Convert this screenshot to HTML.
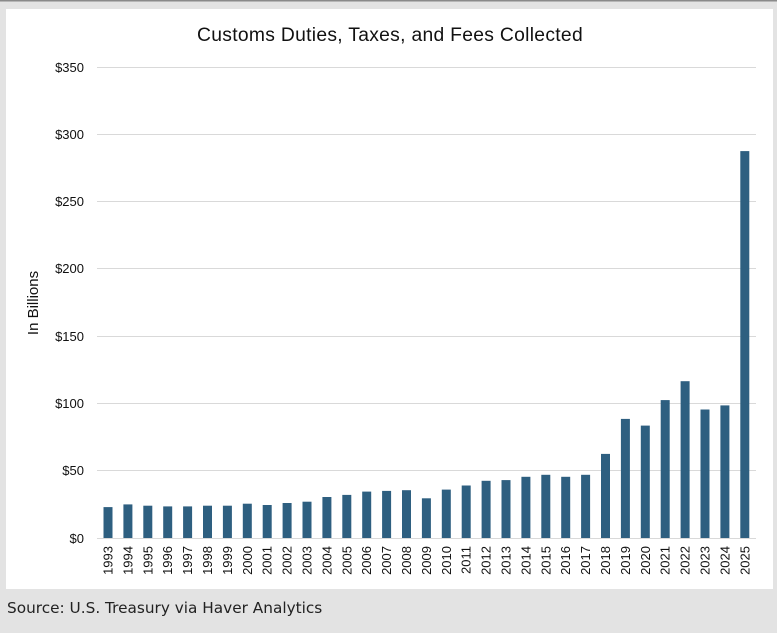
<!DOCTYPE html>
<html><head><meta charset="utf-8"><style>
html,body{margin:0;padding:0;background:#e3e3e3;}
body{width:777px;height:633px;position:relative;overflow:hidden;font-family:"Liberation Sans",Arial,sans-serif;}
</style></head><body>
<svg width="777" height="633" xmlns="http://www.w3.org/2000/svg" style="position:absolute;left:0;top:0">
<rect x="0" y="0" width="777" height="633" fill="#e3e3e3"/>
<rect x="0" y="0" width="777" height="1.5" fill="#8a8a8a"/>
<rect x="6" y="9" width="767" height="580" fill="#fff"/>
<text x="390" y="41" text-anchor="middle" font-size="19.3" letter-spacing="0.3" fill="#111">Customs Duties, Taxes, and Fees Collected</text>
<g stroke="#d9d9d9" stroke-width="1">
<line x1="97" x2="756" y1="67.5" y2="67.5"/>
<line x1="97" x2="756" y1="134.5" y2="134.5"/>
<line x1="97" x2="756" y1="201.5" y2="201.5"/>
<line x1="97" x2="756" y1="268.5" y2="268.5"/>
<line x1="97" x2="756" y1="336.5" y2="336.5"/>
<line x1="97" x2="756" y1="403.5" y2="403.5"/>
<line x1="97" x2="756" y1="470.5" y2="470.5"/>
<line x1="97" x2="756" y1="538.5" y2="538.5"/>
</g>
<g font-size="13" fill="#111" text-anchor="end">
<text x="84" y="72">$350</text>
<text x="84" y="139">$300</text>
<text x="84" y="206">$250</text>
<text x="84" y="273">$200</text>
<text x="84" y="341">$150</text>
<text x="84" y="408">$100</text>
<text x="84" y="475">$50</text>
<text x="84" y="543">$0</text>
</g>
<text transform="translate(38,303) rotate(-90)" text-anchor="middle" font-size="15" fill="#111">In Billions</text>
<g fill="#2e5f80">
<rect x="103.5" y="507.1" width="9" height="30.9"/>
<rect x="123.4" y="504.4" width="9" height="33.6"/>
<rect x="143.3" y="505.7" width="9" height="32.3"/>
<rect x="163.2" y="506.4" width="9" height="31.6"/>
<rect x="183.1" y="506.4" width="9" height="31.6"/>
<rect x="203.0" y="505.7" width="9" height="32.3"/>
<rect x="222.9" y="505.7" width="9" height="32.3"/>
<rect x="242.8" y="503.7" width="9" height="34.3"/>
<rect x="262.7" y="505.0" width="9" height="33.0"/>
<rect x="282.6" y="503.0" width="9" height="35.0"/>
<rect x="302.5" y="501.7" width="9" height="36.3"/>
<rect x="322.4" y="497.0" width="9" height="41.0"/>
<rect x="342.3" y="494.9" width="9" height="43.1"/>
<rect x="362.2" y="491.6" width="9" height="46.4"/>
<rect x="382.1" y="490.9" width="9" height="47.1"/>
<rect x="402.0" y="490.2" width="9" height="47.8"/>
<rect x="421.9" y="498.3" width="9" height="39.7"/>
<rect x="441.8" y="489.6" width="9" height="48.4"/>
<rect x="461.7" y="485.5" width="9" height="52.5"/>
<rect x="481.6" y="480.8" width="9" height="57.2"/>
<rect x="501.5" y="480.1" width="9" height="57.9"/>
<rect x="521.4" y="476.8" width="9" height="61.2"/>
<rect x="541.3" y="474.8" width="9" height="63.2"/>
<rect x="561.2" y="476.8" width="9" height="61.2"/>
<rect x="581.1" y="474.8" width="9" height="63.2"/>
<rect x="601.0" y="453.9" width="9" height="84.1"/>
<rect x="620.9" y="418.9" width="9" height="119.1"/>
<rect x="640.8" y="425.6" width="9" height="112.4"/>
<rect x="660.7" y="400.1" width="9" height="137.9"/>
<rect x="680.6" y="381.2" width="9" height="156.8"/>
<rect x="700.5" y="409.5" width="9" height="128.5"/>
<rect x="720.4" y="405.4" width="9" height="132.6"/>
<rect x="740.3" y="151.1" width="9" height="386.9"/>
</g>
<g font-size="13" fill="#111" text-anchor="end">
<text transform="translate(112.5,546) rotate(-90)">1993</text>
<text transform="translate(132.4,546) rotate(-90)">1994</text>
<text transform="translate(152.3,546) rotate(-90)">1995</text>
<text transform="translate(172.2,546) rotate(-90)">1996</text>
<text transform="translate(192.1,546) rotate(-90)">1997</text>
<text transform="translate(212.0,546) rotate(-90)">1998</text>
<text transform="translate(231.9,546) rotate(-90)">1999</text>
<text transform="translate(251.8,546) rotate(-90)">2000</text>
<text transform="translate(271.7,546) rotate(-90)">2001</text>
<text transform="translate(291.6,546) rotate(-90)">2002</text>
<text transform="translate(311.5,546) rotate(-90)">2003</text>
<text transform="translate(331.4,546) rotate(-90)">2004</text>
<text transform="translate(351.3,546) rotate(-90)">2005</text>
<text transform="translate(371.2,546) rotate(-90)">2006</text>
<text transform="translate(391.1,546) rotate(-90)">2007</text>
<text transform="translate(411.0,546) rotate(-90)">2008</text>
<text transform="translate(430.9,546) rotate(-90)">2009</text>
<text transform="translate(450.8,546) rotate(-90)">2010</text>
<text transform="translate(470.7,546) rotate(-90)">2011</text>
<text transform="translate(490.6,546) rotate(-90)">2012</text>
<text transform="translate(510.5,546) rotate(-90)">2013</text>
<text transform="translate(530.4,546) rotate(-90)">2014</text>
<text transform="translate(550.3,546) rotate(-90)">2015</text>
<text transform="translate(570.2,546) rotate(-90)">2016</text>
<text transform="translate(590.1,546) rotate(-90)">2017</text>
<text transform="translate(610.0,546) rotate(-90)">2018</text>
<text transform="translate(629.9,546) rotate(-90)">2019</text>
<text transform="translate(649.8,546) rotate(-90)">2020</text>
<text transform="translate(669.7,546) rotate(-90)">2021</text>
<text transform="translate(689.6,546) rotate(-90)">2022</text>
<text transform="translate(709.5,546) rotate(-90)">2023</text>
<text transform="translate(729.4,546) rotate(-90)">2024</text>
<text transform="translate(749.3,546) rotate(-90)">2025</text>
</g>
<text x="7" y="613" font-size="15.3" fill="#222" font-family="'DejaVu Sans','Liberation Sans',sans-serif">Source: U.S. Treasury via Haver Analytics</text>
</svg>
</body></html>
